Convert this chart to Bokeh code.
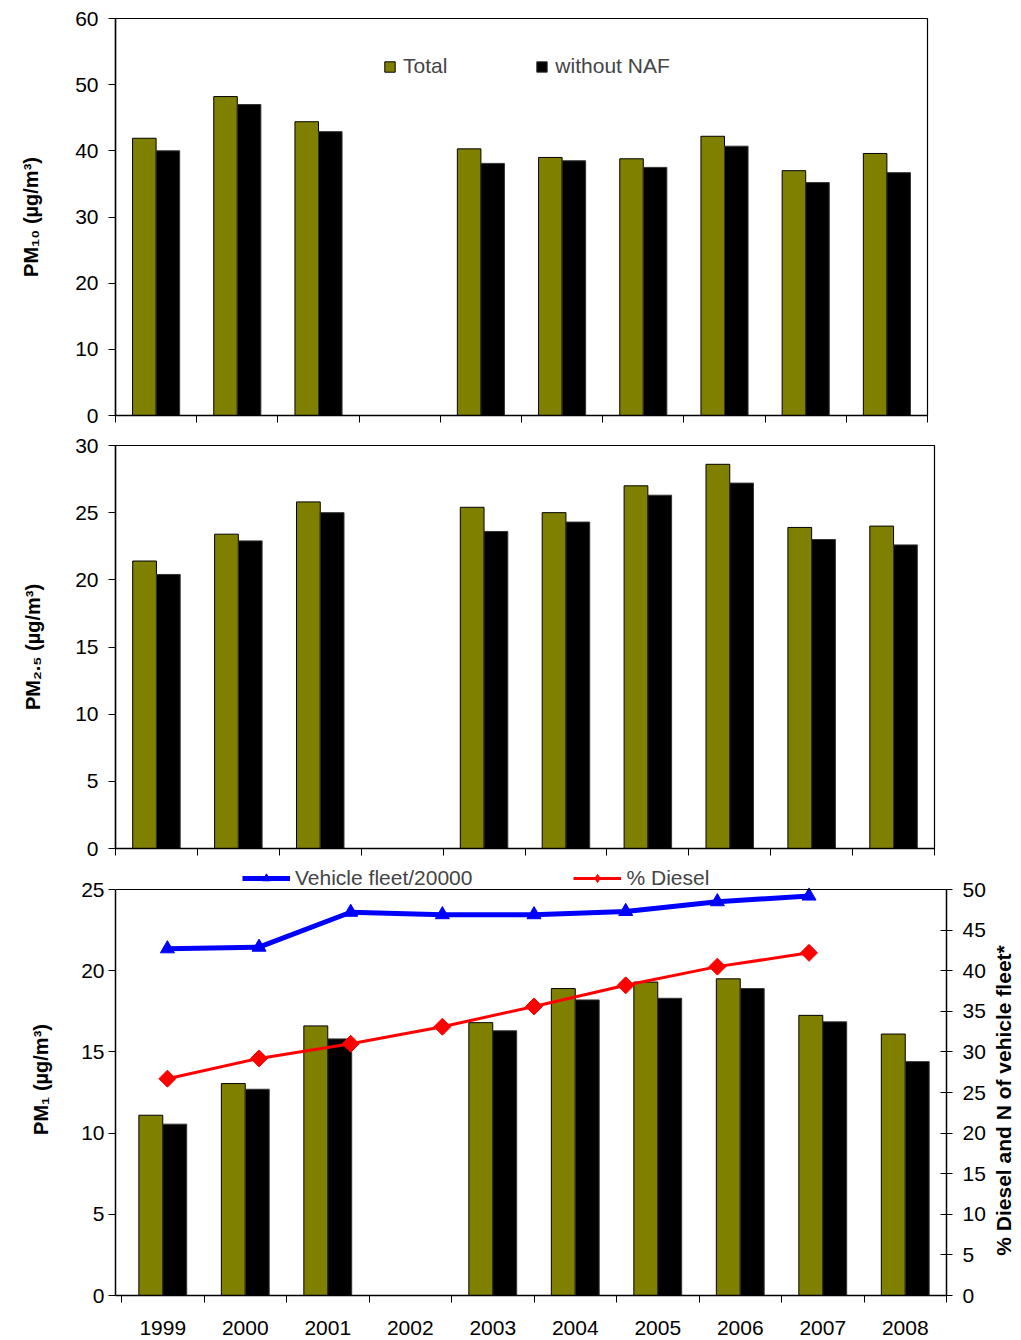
import numpy as np
from bokeh.plotting import figure
from bokeh.models import (Range1d, FixedTicker, SingleIntervalTicker, LinearAxis,
                          ColumnDataSource, Legend, LegendItem, Span)
from bokeh.transform import dodge
from bokeh.layouts import column
from bokeh.embed import file_html
from bokeh.resources import INLINE

nan = np.nan
years = ["1999", "2000", "2001", "2002", "2003", "2004", "2005", "2006", "2007", "2008"]

pm10_total = [41.9, 48.2, 44.4, nan, 40.3, 39.0, 38.8, 42.2, 37.0, 39.6]
pm10_nonaf = [40.0, 47.0, 42.9, nan, 38.1, 38.5, 37.5, 40.7, 35.2, 36.7]

pm25_total = [21.4, 23.4, 25.8, nan, 25.4, 25.0, 27.0, 28.6, 23.9, 24.0]
pm25_nonaf = [20.4, 22.9, 25.0, nan, 23.6, 24.3, 26.3, 27.2, 23.0, 22.6]

pm1_total = [11.1, 13.05, 16.6, nan, 16.8, 18.9, 19.3, 19.5, 17.25, 16.1]
pm1_nonaf = [10.55, 12.7, 15.8, nan, 16.3, 18.2, 18.3, 18.9, 16.85, 14.4]

# secondary series, plotted on a 9-slot secondary axis
line_slots = 9
fleet = [42.7, 42.9, 47.2, 46.9, 46.9, 47.3, 48.5, 49.2]
diesel = [26.7, 29.2, 31.0, 33.1, 35.6, 38.2, 40.5, 42.2]

right_label = "% Diesel and N of vehicle fleet*"

FONT = "Liberation Sans"
OLIVE = "#808000"
FS = "21px"


def style_y(ax, standoff, lab_standoff=10):
    ax.major_label_text_font = FONT
    ax.major_label_text_font_size = FS
    ax.major_label_text_color = "black"
    ax.axis_label_text_font = FONT
    ax.axis_label_text_font_size = "20px"
    ax.axis_label_text_font_style = "bold"
    ax.axis_label_text_color = "black"
    ax.axis_line_color = "black"
    ax.axis_line_width = 1.5
    ax.major_tick_line_color = "black"
    ax.major_tick_out = 7
    ax.major_tick_in = 0
    ax.minor_tick_line_color = None
    ax.major_label_standoff = lab_standoff
    ax.axis_label_standoff = standoff


def panel(total, nonaf, ymax, yint, ylabel, fw, fh, mt, mb, mr, labels, lab_standoff,
          xstart=0.0, yshow=None, tick_standoff=10):
    idx = np.arange(len(years))
    src = ColumnDataSource(dict(xc=idx + 0.5, total=np.array(total, dtype=float),
                                nonaf=np.array(nonaf, dtype=float)))
    p = figure(x_range=Range1d(xstart, len(years)), y_range=Range1d(0, ymax),
               frame_width=fw, frame_height=fh,
               min_border_left=115, min_border_top=mt, min_border_bottom=mb, min_border_right=mr,
               output_backend="svg", toolbar_location=None)
    p.xgrid.visible = False
    p.ygrid.visible = False
    p.outline_line_color = "black"
    p.outline_line_width = 1.2
    p.background_fill_color = "white"
    p.border_fill_color = "white"

    r1 = p.vbar(x=dodge("xc", -0.145, range=p.x_range), top="total", width=0.29, source=src,
                fill_color=OLIVE, line_color="black", line_width=1)
    r2 = p.vbar(x=dodge("xc", 0.145, range=p.x_range), top="nonaf", width=0.29, source=src,
                fill_color="black", line_color="#333333", line_width=1)

    xa = p.xaxis[0]
    if labels:
        xa.ticker = FixedTicker(ticks=list(idx + 0.5), minor_ticks=list(range(len(years) + 1)))
        xa.major_label_overrides = {float(i + 0.5): y for i, y in enumerate(years)}
        xa.major_label_standoff = 18
    else:
        xa.ticker = FixedTicker(ticks=[], minor_ticks=list(range(len(years) + 1)))
        xa.major_label_standoff = 0
    xa.major_tick_line_color = None
    xa.major_tick_out = 7
    xa.major_tick_in = 0
    xa.minor_tick_line_color = "black"
    xa.minor_tick_out = 7
    xa.minor_tick_in = 0
    xa.axis_line_color = "black"
    xa.axis_line_width = 1.5
    xa.major_label_text_font = FONT
    xa.major_label_text_font_size = FS
    xa.major_label_text_color = "black"

    ya = p.yaxis[0]
    ya.ticker = SingleIntervalTicker(interval=yint)
    ya.axis_label = ylabel
    style_y(ya, lab_standoff, tick_standoff)
    if yshow is not None:
        ya.bounds = (0, yshow)
    return p, r1, r2


p1, b1, b2 = panel(pm10_total, pm10_nonaf, 60, 10, "PM₁₀ (µg/m³)", 812, 397, 18, 15, 10, False, 30)
leg1 = Legend(items=[LegendItem(label="Total", renderers=[b1]),
                     LegendItem(label="without NAF", renderers=[b2])],
              location=(268, 337), orientation="horizontal",
              glyph_width=13, glyph_height=13, label_standoff=7, spacing=88,
              padding=0, margin=0, label_text_font=FONT, label_text_font_size=FS,
              border_line_color=None, background_fill_alpha=0)
p1.add_layout(leg1, "center")

p2, _, _ = panel(pm25_total, pm25_nonaf, 30, 5, "PM₂.₅ (µg/m³)", 819, 403, 15, 10, 10, False, 28)

# bottom panel: frame extended upward to hold the line legend; axes bounded to the data box
PM1_MAX, RIGHT_MAX = 25, 50
BOX_H, LEG_ROOM = 406, 26
scale_up = (BOX_H + LEG_ROOM) / BOX_H
p3, _, _ = panel(pm1_total, pm1_nonaf, PM1_MAX * scale_up, 5, "PM₁ (µg/m³)", 831, BOX_H + LEG_ROOM,
                 5, 44, 75, True, 26, xstart=-0.073, yshow=PM1_MAX, tick_standoff=4)
p3.outline_line_color = None
p3.add_layout(Span(location=PM1_MAX, dimension="width", line_color="black", line_width=1.2))
p3.extra_x_ranges = {"slots": Range1d(-0.066, line_slots)}
p3.extra_y_ranges = {"right": Range1d(0, RIGHT_MAX * scale_up)}
ra = LinearAxis(y_range_name="right", ticker=SingleIntervalTicker(interval=5))
style_y(ra, 8, 10)
ra.major_tick_in = 6
ra.major_tick_out = 6
ra.bounds = (0, RIGHT_MAX)
p3.add_layout(ra, "right")

# right-hand title drawn as a rotated single tick label so that it reads bottom-to-top
title_at = 4.9
ta = LinearAxis(y_range_name="right", ticker=FixedTicker(ticks=[title_at], minor_ticks=[]),
                major_label_overrides={title_at: right_label},
                major_label_orientation=np.pi / 2)
ta.axis_line_color = None
ta.major_tick_line_color = None
ta.minor_tick_line_color = None
ta.major_tick_out = 0
ta.major_tick_in = 0
ta.major_label_standoff = 15
ta.major_label_text_font = FONT
ta.major_label_text_font_size = "21px"
ta.major_label_text_font_style = "bold"
ta.major_label_text_color = "black"
p3.add_layout(ta, "right")

fx = np.arange(len(fleet)) + 0.5
dx = np.arange(len(diesel)) + 0.5
l1 = p3.line(fx, fleet, x_range_name="slots", y_range_name="right", line_color="blue", line_width=5)
s1 = p3.scatter(fx, fleet, x_range_name="slots", y_range_name="right", marker="triangle",
                size=14, fill_color="blue", line_color="blue")
l2 = p3.line(dx, diesel, x_range_name="slots", y_range_name="right", line_color="red", line_width=3)
s2 = p3.scatter(dx, diesel, x_range_name="slots", y_range_name="right", marker="square",
                angle=np.pi / 4, size=12, fill_color="red", line_color="red")
# legend key shape for the diesel series (a single missing point, so nothing is plotted)
k2 = p3.scatter(x=[nan], y=[nan], x_range_name="slots", y_range_name="right", marker="diamond",
                size=18, fill_color="red", line_color="red")
leg3 = Legend(items=[LegendItem(label="Vehicle fleet/20000", renderers=[l1, s1]),
                     LegendItem(label="% Diesel", renderers=[l2, k2])],
              location=(127, BOX_H + LEG_ROOM - 27), orientation="horizontal",
              glyph_width=48, glyph_height=20, label_standoff=5, spacing=101,
              padding=0, margin=0, label_text_font=FONT, label_text_font_size=FS,
              border_line_color=None, background_fill_alpha=0)
p3.add_layout(leg3, "center")

layout = column(p1, p2, p3, spacing=0)
open("out.html", "w").write(file_html(layout, INLINE))
